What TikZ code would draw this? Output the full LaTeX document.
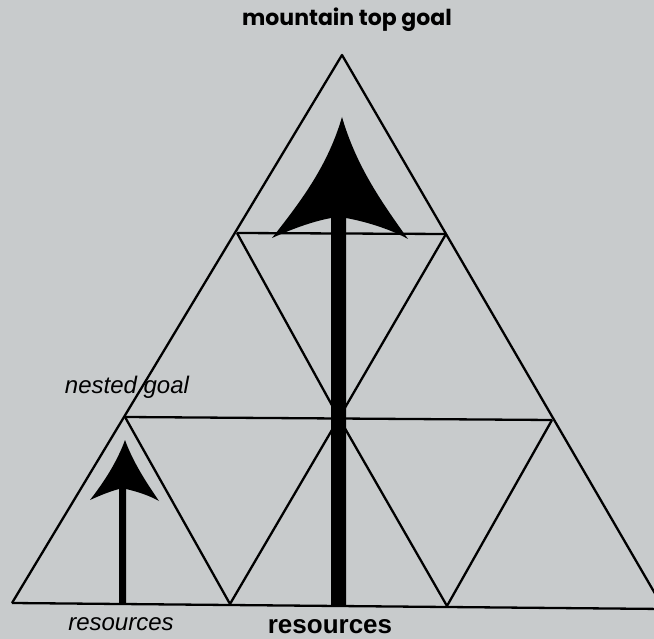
\documentclass[tikz,border=0pt]{standalone}
\usepackage{fontspec}
\setmainfont{Liberation Sans}
\newfontfamily\titlefont{Poppins}
\begin{document}
\begin{tikzpicture}[x=1pt,y=-1pt,
  mesh/.style={line width=2.3pt, line join=round},
  lbl/.style={inner sep=0pt, anchor=base},
  arrowfill/.style={fill=black, draw=none}]
\definecolor{paper}{RGB}{200,203,204}
\fill[paper] (0,0) rectangle (654,639);
\useasboundingbox (0,0) rectangle (654,639);
% vertices
\coordinate (A) at (342,55);
\coordinate (L1) at (237,233);
\coordinate (R1) at (446,234);
\coordinate (L2) at (125,417);
\coordinate (M2) at (339,418);
\coordinate (R2) at (552,420);
\coordinate (B0) at (12,603);
\coordinate (B1) at (230,604);
\coordinate (B2) at (447,606);
\coordinate (B3) at (664,609);
% mesh
\draw[mesh] (B0) -- (A) -- (B3);
\draw[mesh] (B0) -- (B3);
\draw[mesh] (L1) -- (R1);
\draw[mesh] (L2) -- (R2);
\draw[mesh] (L1) -- (M2) -- (R1);
\draw[mesh] (L2) -- (B1) -- (M2) -- (B2) -- (R2);
% big arrow
\fill[arrowfill] (331,606) -- (331,218)
  .. controls (310,222) and (290,230) .. (272,238)
  .. controls (302,200) and (328,165) .. (342,117)
  .. controls (356,165) and (380,200) .. (408,239)
  .. controls (392,230) and (368,222) .. (346,218)
  -- (346,606) -- cycle;
% small arrow
\fill[arrowfill] (119,603) -- (119,489)
  .. controls (108,492) and (99,496) .. (90,500)
  .. controls (104,482) and (117,462) .. (125,440)
  .. controls (133,462) and (146,482) .. (159,501)
  .. controls (150,496) and (139,492) .. (126,489)
  -- (126,603) -- cycle;
% labels
\node[lbl, font=\titlefont\bfseries\fontsize{22}{26}\selectfont] (title) at (347,26) {mountain top goal};
\node[lbl, font=\itshape\fontsize{24}{28}\selectfont] (nested) at (127,394) {nested goal};
\node[lbl, font=\itshape\fontsize{24}{28}\selectfont] (resL) at (121,630) {resources};
\node[lbl, font=\bfseries\fontsize{26}{30}\selectfont] (resC) at (330,633) {resources};
\end{tikzpicture}
\end{document}
